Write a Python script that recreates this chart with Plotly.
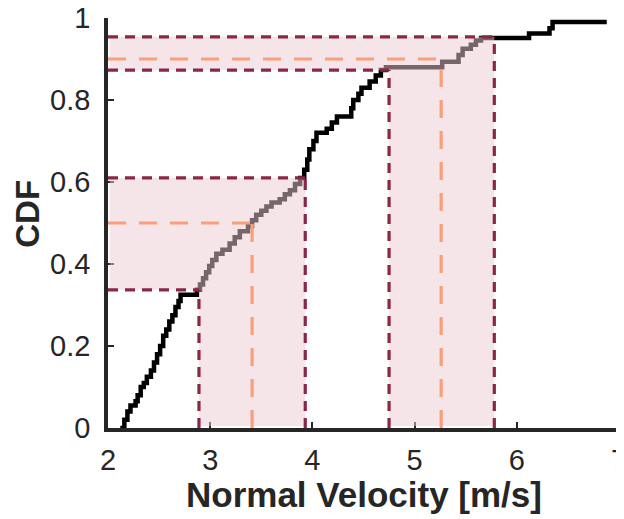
import plotly.graph_objects as go

# 经验累积分布 (阶梯点: 速度, CDF)
velocity = [2.12, 2.16, 2.19, 2.22, 2.27, 2.29, 2.32, 2.35, 2.38, 2.42,
            2.45, 2.48, 2.51, 2.54, 2.57, 2.60, 2.63, 2.66, 2.69, 2.71,
            2.87, 2.90, 2.93, 2.96, 2.99, 3.02, 3.06, 3.12, 3.19, 3.24,
            3.29, 3.37, 3.41, 3.45, 3.50, 3.55, 3.60, 3.68, 3.73, 3.78,
            3.83, 3.88, 3.92, 3.95, 3.97, 4.01, 4.04, 4.14, 4.19, 4.24,
            4.38, 4.40, 4.45, 4.48, 4.56, 4.62, 4.67, 4.72, 5.27, 5.43,
            5.47, 5.55, 5.60, 5.65, 6.12, 6.32, 6.35, 6.88]
cdf = [0.0, 0.02, 0.04, 0.055, 0.065, 0.08, 0.1, 0.11, 0.125, 0.14,
       0.16, 0.18, 0.2, 0.225, 0.24, 0.26, 0.275, 0.295, 0.31, 0.325,
       0.337, 0.35, 0.365, 0.38, 0.395, 0.41, 0.425, 0.435, 0.45, 0.465,
       0.48, 0.492, 0.507, 0.52, 0.53, 0.54, 0.55, 0.558, 0.57, 0.58,
       0.595, 0.61, 0.63, 0.655, 0.68, 0.70, 0.72, 0.73, 0.745, 0.76,
       0.78, 0.80, 0.815, 0.83, 0.845, 0.86, 0.873, 0.88, 0.893, 0.91,
       0.925, 0.935, 0.945, 0.951, 0.962, 0.975, 0.99, 0.99]

# 分位数及其区间: (概率, 速度, 概率下限, 概率上限, 速度下限, 速度上限)
quant_p = [0.5, 0.9]
quant_v = [3.41, 5.26]
band_p_lo = [0.337, 0.873]
band_p_hi = [0.61, 0.954]
band_v_lo = [2.89, 4.75]
band_v_hi = [3.93, 5.78]

x_ticks = [2, 3, 4, 5, 6, 7]
y_ticks = [0, 0.2, 0.4, 0.6, 0.8, 1]
x_title = 'Normal Velocity [m/s]'
y_title = 'CDF'

ink = '#262626'
maroon = '#8c2647'
orange = '#fa9f7a'
shade = 'rgba(235,201,209,0.5)'
font = 'Liberation Sans, Arial, sans-serif'

fig = go.Figure()
fig.add_trace(go.Scatter(x=velocity, y=cdf, mode='lines', line_shape='hv',
                         line=dict(color='black', width=4.5),
                         showlegend=False, hoverinfo='skip'))

x0 = 2.017  # 让阴影避开坐标轴线
y0 = 0.005
shapes = []
for p, v, plo, phi, vlo, vhi in zip(quant_p, quant_v, band_p_lo, band_p_hi,
                                     band_v_lo, band_v_hi):
    path = (f'M {x0},{plo} L {vlo},{plo} L {vlo},{y0} L {vhi},{y0} '
            f'L {vhi},{phi} L {x0},{phi} Z')
    shapes.append(dict(type='path', path=path, fillcolor=shade,
                       line=dict(width=0), layer='above'))
    dash_m = dict(color=maroon, width=3.2, dash='10px,7px')
    dash_o = dict(color=orange, width=3.2, dash='18px,13px')
    shapes += [
        dict(type='line', x0=2, x1=vhi, y0=phi, y1=phi, line=dash_m, layer='above'),
        dict(type='line', x0=2, x1=vlo, y0=plo, y1=plo, line=dash_m, layer='above'),
        dict(type='line', x0=vlo, x1=vlo, y0=0, y1=plo, line=dash_m, layer='above'),
        dict(type='line', x0=vhi, x1=vhi, y0=0, y1=phi, line=dash_m, layer='above'),
        dict(type='line', x0=2, x1=v, y0=p, y1=p, line=dash_o, layer='above'),
        dict(type='line', x0=v, x1=v, y0=0, y1=p, line=dash_o, layer='above'),
    ]

# 坐标轴标题用注释放置
fig.add_annotation(text=f'<b>{x_title}</b>', xref='paper', yref='paper',
                   x=0.5, y=-0.163, showarrow=False, font=dict(size=35),
                   xanchor='center', yanchor='middle')
fig.add_annotation(text=f'<b>{y_title}</b>', xref='paper', yref='paper',
                   x=-0.157, y=0.522, showarrow=False, font=dict(size=33),
                   textangle=-90, xanchor='center', yanchor='middle')

# 页面 body 自带 8px 边距, 边距按此补偿
fig.update_layout(
    width=624, height=519,
    margin=dict(l=100, r=13, t=10, b=99),
    plot_bgcolor='white', paper_bgcolor='white',
    font=dict(family=font, color=ink, size=29),
    shapes=shapes,
    xaxis=dict(range=[2, 7], tickvals=x_ticks, showgrid=False, zeroline=False,
               showline=True, linecolor=ink, linewidth=3.5, automargin=False,
               ticks='inside', ticklen=6, tickwidth=2, tickcolor=ink,
               ticklabelstandoff=3, ticklabeloverflow='allow'),
    yaxis=dict(range=[0, 1], tickvals=y_ticks, showgrid=False, zeroline=False,
               showline=True, linecolor=ink, linewidth=3.5, automargin=False,
               ticks='inside', ticklen=6, tickwidth=2, tickcolor=ink,
               ticklabelstandoff=8, ticklabeloverflow='allow'),
)

fig.write_html('out.html')
